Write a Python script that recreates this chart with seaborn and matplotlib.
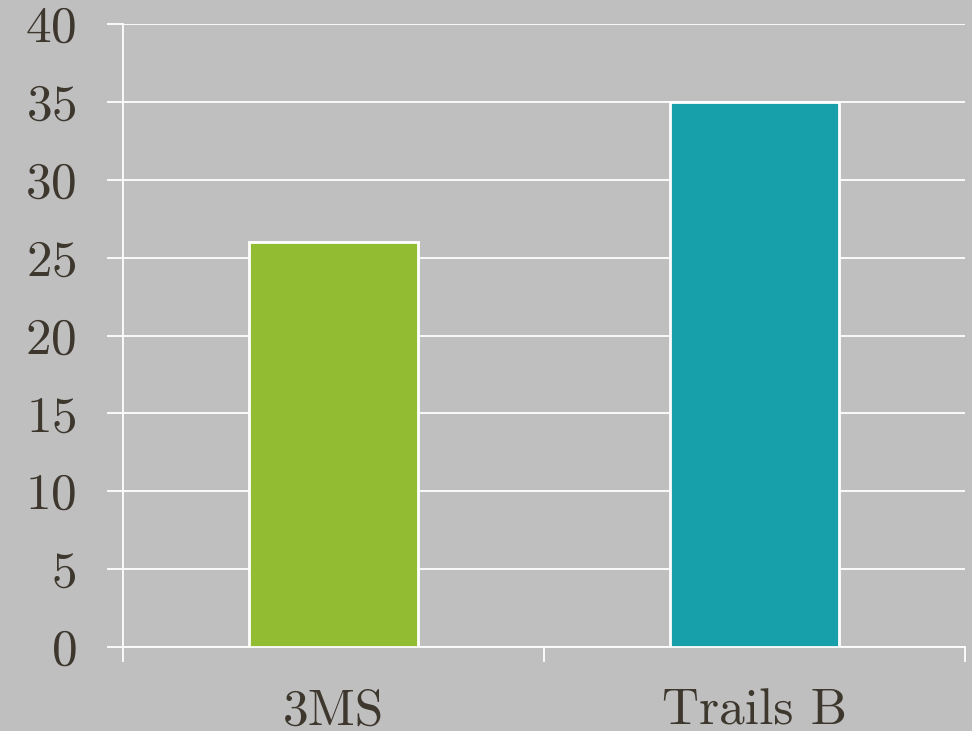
import matplotlib
matplotlib.use("Agg")
import matplotlib.pyplot as plt
import seaborn as sns
import pandas as pd
from matplotlib.ticker import MultipleLocator, FixedLocator

categories = ["3MS", "Trails B"]
values = [26, 35]
colors = ["#92BD33", "#18A0AA"]

bg = "#BFBFBF"
txt = "#3D372E"

sns.set_theme(style="white")
plt.rcParams["font.family"] = ["cmr10", "DejaVu Serif"]
plt.rcParams["axes.formatter.use_mathtext"] = True

fig = plt.figure(figsize=(9.72, 7.31), dpi=100, facecolor=bg)
W, H = 972, 731
ax = fig.add_axes([123 / W, (H - 647) / H, (965 - 123) / W, (647 - 24) / H])
ax.set_facecolor(bg)

df = pd.DataFrame({"cat": categories, "val": values})
sns.barplot(data=df, x="cat", y="val", hue="cat", palette=colors, width=0.4,
            saturation=1, edgecolor="white", linewidth=2, legend=False,
            ax=ax, zorder=3)

ax.set_xlim(-0.5, 1.5)
ax.set_ylim(0, 40)
ax.yaxis.set_major_locator(MultipleLocator(5))
ax.grid(axis="y", color="white", linewidth=1.3, zorder=0)
ax.set_axisbelow(True)
for s in ["top", "right"]:
    ax.spines[s].set_visible(False)
ax.spines["left"].set_color("white")
ax.spines["left"].set_linewidth(1.3)
ax.spines["bottom"].set_color("white")
ax.spines["bottom"].set_linewidth(1.3)

ax.tick_params(axis="y", which="major", length=11.5, width=1.3, color="white",
               pad=22, labelsize=37, labelcolor=txt, left=True)
ax.xaxis.set_minor_locator(FixedLocator([-0.5, 0.5, 1.5]))
ax.tick_params(axis="x", which="minor", length=11, width=1.3, color="white",
               direction="out", bottom=True)
ax.tick_params(axis="x", which="major", length=0, pad=30, labelsize=37,
               labelcolor=txt)
ax.set_xlabel("")
ax.set_ylabel("")

fig.savefig("out.png", dpi=100, facecolor=bg)
